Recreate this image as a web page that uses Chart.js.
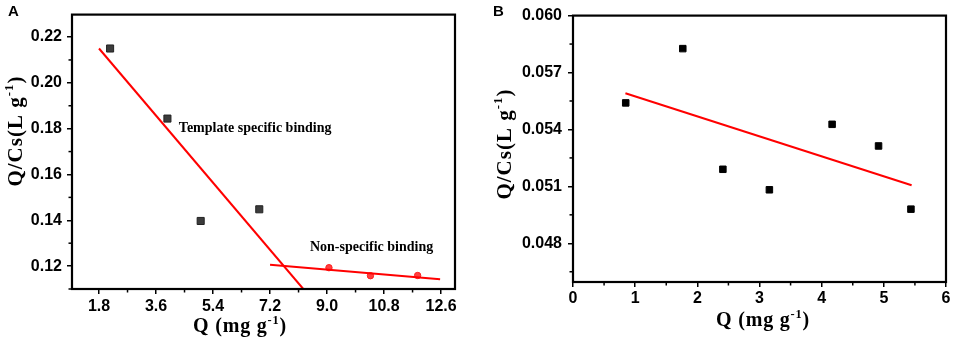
<!DOCTYPE html>
<html>
<head>
<meta charset="utf-8">
<script src="https://cdn.jsdelivr.net/npm/chart.js@4.4.1/dist/chart.umd.min.js"></script>
<style>
  html,body{margin:0;padding:0;background:#fff;}
  #wrap{position:relative;width:957px;height:341px;overflow:hidden;}
  canvas{position:absolute;top:0;}
</style>
</head>
<body>
<div id="wrap">
  <canvas id="cA" width="478" height="341" style="left:0"></canvas>
  <canvas id="cB" width="477" height="341" style="left:480px"></canvas>
</div>
<script>
// ---------- Panel A data ----------
const qTemplateA   = [2.15, 3.96, 5.01, 6.86];
const qcsTemplateA = [0.215, 0.1844, 0.1397, 0.1448];
const qNonSpecA    = [9.06, 10.37, 11.86];
const qcsNonSpecA  = [0.1193, 0.1158, 0.1159];
const fitTemplateAx = [1.8, 8.25];
const fitTemplateAy = [0.215, 0.110];
const fitNonSpecAx  = [7.2, 12.57];
const fitNonSpecAy  = [0.1206, 0.1143];
const xTicksA = [1.8, 3.6, 5.4, 7.2, 9.0, 10.8, 12.6];
const yTicksA = [0.12, 0.14, 0.16, 0.18, 0.20, 0.22];

// ---------- Panel B data ----------
const qB   = [0.848, 1.766, 2.411, 3.159, 4.168, 4.915, 5.436];
const qcsB = [0.0554, 0.05826, 0.0519, 0.05082, 0.05427, 0.05313, 0.0498];
const fitBx = [0.843, 5.447];
const fitBy = [0.05591, 0.05106];
const xTicksB = [0, 1, 2, 3, 4, 5, 6];
const yTicksB = [0.048, 0.051, 0.054, 0.057, 0.060];

const pts = (xs, ys) => xs.map((x, i) => ({x, y: ys[i]}));
const mids = (t, min, max) => {
  const out = [];
  const step = t[1] - t[0];
  for (let v = t[0] - step / 2; v <= max + 1e-9; v += step) if (v >= min - 1e-9) out.push(+v.toFixed(6));
  return out;
};

const SERIF = "'Liberation Serif', 'Times New Roman', serif";
const SANS = "'Liberation Sans', Arial, sans-serif";

function drawRich(ctx, parts, x, y, size, rot, align, spacing) {
  ctx.save();
  ctx.translate(x, y);
  if (rot) ctx.rotate(rot);
  ctx.letterSpacing = (spacing || 0) + 'px';
  let total = 0;
  const widths = parts.map(p => {
    ctx.font = 'bold ' + (p.sup ? size * 0.62 : size) + 'px ' + SERIF;
    const w = ctx.measureText(p.t).width;
    total += w;
    return w;
  });
  let cx = align === 'left' ? 0 : -total / 2;
  ctx.fillStyle = '#000';
  ctx.textBaseline = 'alphabetic';
  ctx.textAlign = 'left';
  parts.forEach((p, i) => {
    ctx.font = 'bold ' + (p.sup ? size * 0.62 : size) + 'px ' + SERIF;
    ctx.fillText(p.t, cx, p.sup ? -size * 0.42 : 0);
    cx += widths[i];
  });
  ctx.restore();
}

const framePlugin = {
  id: 'frame',
  afterDraw(chart, args, opts) {
    const {ctx, chartArea: a} = chart;
    ctx.save();
    ctx.strokeStyle = '#000';
    ctx.lineWidth = 1.5;
    const sx = chart.scales.x, sy = chart.scales.y;
    mids(opts.xt, sx.min, sx.max).forEach(v => {
      const p = sx.getPixelForValue(v);
      ctx.beginPath(); ctx.moveTo(p, a.bottom); ctx.lineTo(p, a.bottom + 3.5); ctx.stroke();
    });
    mids(opts.yt, sy.min, sy.max).forEach(v => {
      const p = sy.getPixelForValue(v);
      ctx.beginPath(); ctx.moveTo(a.left, p); ctx.lineTo(a.left - 3.5, p); ctx.stroke();
    });
    ctx.lineWidth = 2.2;
    ctx.strokeRect(a.left, a.top, a.right - a.left, a.bottom - a.top);
    // axis titles
    drawRich(ctx, [{t: 'Q/Cs(L g'}, {t: '-1', sup: true}, {t: ')'}], opts.yTitle[0], opts.yTitle[1], 21, -Math.PI / 2, 'center', 1);
    drawRich(ctx, [{t: 'Q (mg g'}, {t: '-1', sup: true}, {t: ')'}], opts.xTitle[0], opts.xTitle[1], 20, 0, 'center', 0.8);
    // annotations (anchored in data coordinates)
    (opts.notes || []).forEach(n => {
      drawRich(ctx, [{t: n.t}], sx.getPixelForValue(n.x), sy.getPixelForValue(n.y), 14, 0, 'left', 0);
    });
    // panel letter
    ctx.font = 'bold 15px ' + SANS;
    ctx.fillStyle = '#000';
    ctx.textAlign = 'left';
    ctx.textBaseline = 'top';
    ctx.fillText(opts.letter[0], opts.letter[1], opts.letter[2]);
    ctx.restore();
  }
};

function axis(ticksArr, fmt, opts) {
  return {
    type: 'linear',
    min: opts.min, max: opts.max,
    afterBuildTicks: s => { s.ticks = ticksArr.map(v => ({value: v})); },
    afterFit: s => { if (opts.w !== undefined) s.width = opts.w; if (opts.h !== undefined) s.height = opts.h; },
    grid: {drawOnChartArea: false, drawTicks: true, tickLength: 5, color: '#000', lineWidth: 1.5},
    border: {display: false},
    ticks: {
      color: '#000', padding: opts.pad,
      font: {family: SANS, weight: 'bold', size: 16},
      callback: v => v.toFixed(fmt), maxRotation: 0, autoSkip: false
    }
  };
}

Chart.defaults.animation = false;

new Chart(document.getElementById('cA'), {
  type: 'scatter',
  data: {
    datasets: [
      {data: pts(fitTemplateAx, fitTemplateAy), showLine: true, borderColor: '#ff0000', borderWidth: 2, pointRadius: 0},
      {data: pts(fitNonSpecAx, fitNonSpecAy), showLine: true, borderColor: '#ff0000', borderWidth: 2, pointRadius: 0},
      {data: pts(qTemplateA, qcsTemplateA), pointStyle: 'rect', pointRadius: 5, backgroundColor: '#3c3c3c', borderColor: '#222', borderWidth: 1},
      {data: pts(qNonSpecA, qcsNonSpecA), pointStyle: 'circle', pointRadius: 3.2, backgroundColor: '#ff4040', borderColor: '#ff2020', borderWidth: 1}
    ]
  },
  options: {
    responsive: false, devicePixelRatio: 1,
    layout: {padding: {left: 0, top: 7, right: 23, bottom: 0}},
    plugins: {
      legend: {display: false}, tooltip: {enabled: false},
      frame: {
        xt: xTicksA, yt: yTicksA,
        yTitle: [22, 131], xTitle: [240, 332],
        letter: ['A', 8, 4],
        notes: [{t: 'Template specific binding', x: 4.32, y: 0.1785}, {t: 'Non-specific binding', x: 8.46, y: 0.1268}]
      }
    },
    scales: {
      x: axis(xTicksA, 1, {min: 0.947, max: 13.04, h: 52, pad: 3}),
      y: axis(yTicksA, 2, {min: 0.110, max: 0.2298, w: 72, pad: 5})
    }
  },
  plugins: [framePlugin]
});

new Chart(document.getElementById('cB'), {
  type: 'scatter',
  data: {
    datasets: [
      {data: pts(fitBx, fitBy), showLine: true, borderColor: '#ff0000', borderWidth: 2, pointRadius: 0},
      {data: pts(qB, qcsB), pointStyle: 'rect', pointRadius: 4.6, backgroundColor: '#000', borderColor: '#000', borderWidth: 1}
    ]
  },
  options: {
    responsive: false, devicePixelRatio: 1,
    layout: {padding: {left: 0, top: 8, right: 11, bottom: 0}},
    plugins: {
      legend: {display: false}, tooltip: {enabled: false},
      frame: {
        xt: xTicksB, yt: yTicksB,
        yTitle: [31, 144], xTitle: [283, 326],
        letter: ['B', 13, 4]
      }
    },
    scales: {
      x: axis(xTicksB, 0, {min: 0, max: 6, h: 59, pad: 2}),
      y: axis(yTicksB, 3, {min: 0.04596, max: 0.060, w: 93, pad: 6})
    }
  },
  plugins: [framePlugin]
});
</script>
</body>
</html>
